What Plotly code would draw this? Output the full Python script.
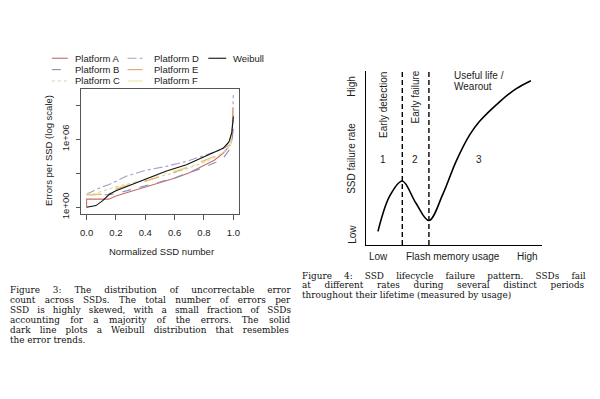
import plotly.graph_objects as go

W, H = 600, 399

# ---------------- Figure 3 data (x = normalized SSD number, y = errors per SSD) -------------
a_x = [0.0, 0.0, 0.15, 0.2, 0.3, 0.4, 0.5, 0.61, 0.7, 0.79, 0.87, 0.93, 0.98, 1.0]
a_y = [1, 5.2, 5.2, 10, 25, 62, 150, 400, 1100, 4000, 14000, 56000, 3.2e5, 8e6]

b_x = [0.0, 0.155, 0.2, 0.3, 0.4, 0.5, 0.61, 0.7, 0.79, 0.87, 0.93, 0.98, 0.995, 1.0]
b_y = [12.6, 12.6, 16, 35, 74, 170, 450, 1100, 2900, 8000, 21000, 1.6e5, 2e6, 3e8]

c_x = [0.0, 0.05, 0.1, 0.2, 0.3, 0.4, 0.5, 0.6, 0.7, 0.8, 0.87, 0.93, 0.98, 1.0]
c_y = [14, 14, 25, 63, 130, 224, 520, 1100, 3000, 9000, 25000, 63000, 3.2e5, 2e8]

d_x = [0.0, 0.05, 0.1, 0.155, 0.27, 0.4, 0.54, 0.68, 0.81, 0.9, 0.95, 0.99, 1.0]
d_y = [14, 30, 60, 100, 550, 1800, 4000, 11000, 40000, 1e5, 2.1e5, 2e6, 8e9]

e_x = [0.0, 0.12, 0.2, 0.3, 0.4, 0.5, 0.6, 0.7, 0.8, 0.87, 0.93, 0.98, 1.0]
e_y = [12.6, 14, 40, 100, 200, 500, 1260, 4000, 12600, 30000, 80000, 4e5, 6e8]

f_x = [0.0, 0.15, 0.2, 0.3, 0.4, 0.5, 0.6, 0.7, 0.8, 0.87, 0.93, 0.98, 1.0]
f_y = [14, 16, 50, 130, 320, 700, 1600, 4000, 10000, 28000, 70000, 3.2e5, 6e7]

w_x = [0.0, 0.03, 0.064, 0.11, 0.155, 0.2, 0.31, 0.4, 0.54, 0.68, 0.81, 0.93, 0.97, 0.99, 1.0]
w_y = [1, 1.1, 1.4, 3.8, 14, 28, 100, 280, 1500, 5600, 30000, 1.6e5, 5.8e5, 4e6, 1e8]

fig3_series = [
    ("Platform A", a_x, a_y, "#c96a6a", "solid"),
    ("Platform B", b_x, b_y, "#8392b5", "dash"),
    ("Platform C", c_x, c_y, "#d6cfa8", "dot"),
    ("Platform D", d_x, d_y, "#ab9cc4", "dashdot"),
    ("Platform E", e_x, e_y, "#e0a862", "longdash"),
    ("Platform F", f_x, f_y, "#ece89c", "longdashdot"),
    ("Weibull", w_x, w_y, "#111111", "solid"),
]
fig3_xticks = [0.0, 0.2, 0.4, 0.6, 0.8, 1.0]
fig3_yticks = [1, 1e3, 1e6, 1e9]
fig3_yticktext = ["1e+00", "", "1e+06", ""]

# ---------------- Figure 4 data (lifecycle failure pattern) ----------------
usage = [0.69, 1.36, 2.07, 2.82, 3.58, 4.37, 5.12, 5.88, 6.44, 7.57, 8.51, 9.36]
failure_rate = [0.78, 2.82, 3.68, 2.44, 1.40, 2.92, 4.81, 6.32, 7.10, 8.22, 8.98, 9.45]
boundaries = [2.07, 3.58]

fig3_legend_cols = [["Platform A", "Platform B", "Platform C"],
                    ["Platform D", "Platform E", "Platform F"],
                    ["Weibull"]]

caption3 = [
    "Figure 3:  The distribution of uncorrectable error",
    "count across SSDs.  The total number of errors per",
    "SSD is highly skewed, with a small fraction of SSDs",
    "accounting for a majority of the errors.  The solid",
    "dark line plots a Weibull distribution that resembles",
    "the error trends.",
]
caption4 = [
    "Figure 4:  SSD lifecycle failure pattern.  SSDs fail",
    "at different rates during several distinct periods",
    "throughout their lifetime (measured by usage)",
]


def px(x):
    return x / W


def py(y):
    return 1 - y / H


SANS = "Liberation Sans, Arial, sans-serif"
SERIF = "DejaVu Serif, serif"
TXT = "#1c1c1c"

# approximate advance widths of DejaVu Serif (units per 2048 em), used only to justify captions
_CW = {' ': 651, ',': 651, '.': 651, ':': 690, '(': 799, ')': 799, '/': 690,
       'a': 1221, 'b': 1311, 'c': 1139, 'd': 1311, 'e': 1208, 'f': 739, 'g': 1311,
       'h': 1327, 'i': 657, 'j': 635, 'k': 1245, 'l': 657, 'm': 1978, 'n': 1327,
       'o': 1233, 'p': 1311, 'q': 1311, 'r': 979, 's': 1051, 't': 820, 'u': 1327,
       'v': 1167, 'w': 1700, 'x': 1167, 'y': 1167, 'z': 1081,
       'F': 1329, 'S': 1370, 'D': 1593, 'T': 1370, 'W': 2120}


def est_width(s, size):
    return sum(_CW.get(ch, 1303) for ch in s) / 2048.0 * size


CAL = 252.0 / est_width(" ".join(caption3[0].split()), 10)


def justified(line, size, target, last=False):
    words = line.split()
    txt = " ".join(words)
    if last or len(words) < 2:
        return txt
    nat = est_width(txt, size) * CAL
    ws = max(0.0, (target - nat) / (len(words) - 1))
    return '<span style="word-spacing:%.2fpx">%s</span>' % (ws, txt)


fig = go.Figure()

for name, xs, ys, col, dash in fig3_series:
    fig.add_trace(go.Scatter(x=xs, y=ys, mode="lines", name=name,
                             line=dict(color=col, dash=dash, width=1.1),
                             xaxis="x", yaxis="y", showlegend=False))

fig.add_trace(go.Scatter(x=usage, y=failure_rate, mode="lines",
                         line=dict(color="black", width=1.6, shape="spline", smoothing=1.0),
                         xaxis="x2", yaxis="y2", showlegend=False))
for b in boundaries:
    fig.add_trace(go.Scatter(x=[b, b], y=[0, 10], mode="lines",
                             line=dict(color="black", width=1.4, dash="5px,3px"),
                             xaxis="x2", yaxis="y2", showlegend=False))

annotations = []
shapes = []


def lab(text, x, y, angle=0, xanchor="center", size=10, family=SANS, color=TXT):
    annotations.append(dict(text=text, x=px(x), y=py(y), xref="paper", yref="paper",
                            textangle=angle, showarrow=False, xanchor=xanchor, yanchor="middle",
                            borderpad=0,
                            font=dict(family=family, size=size, color=color)))


# legend for figure 3 (manual, column-filled like R)
lookup = {s[0]: s for s in fig3_series}
col_line_x = [(51, 67), (127, 145), (208, 226)]
col_text_x = [73, 153, 232]
row_y = [59, 70.5, 82]
for ci, col in enumerate(fig3_legend_cols):
    for ri, name in enumerate(col):
        _, _, _, color, dash = lookup[name]
        x0, x1 = col_line_x[ci]
        shapes.append(dict(type="line", xref="paper", yref="paper",
                           x0=px(x0), x1=px(x1), y0=py(row_y[ri]), y1=py(row_y[ri]),
                           line=dict(color=color, dash=dash, width=1.1)))
        lab(name, col_text_x[ci], row_y[ri], xanchor="left", size=9.5)

# axis titles figure 3
lab("Errors per SSD (log scale)", 47.5, 152.5, -90, size=9.5)
lab("Normalized SSD number", 161, 255, size=9.5)

# figure 4 labels
lab("High", 352, 87, -90)
lab("SSD failure rate", 352, 160, -90)
lab("Low", 352, 237, -90)
lab("Low", 379, 260)
lab("Flash memory usage", 454, 260)
lab("High", 528, 260)
lab("Early detection", 383.5, 106, -90)
lab("Early failure", 416, 98, -90)
lab("Useful life /", 454, 76, 0, "left")
lab("Wearout", 454, 87.5, 0, "left")
lab("1", 383.5, 162)
lab("2", 415, 162)
lab("3", 479.5, 162)

# captions
CAP3 = 8.9
CAP4 = 8.9
for i, line in enumerate(caption3):
    lab(justified(line, CAP3, 285.0, last=(i == len(caption3) - 1)),
        8, 293.5 + i * 10.15, xanchor="left", size=CAP3, family=SERIF, color="#111111")
for i, line in enumerate(caption4):
    lab(justified(line, CAP4, 287.0, last=(i == len(caption4) - 1)),
        301, 279.0 + i * 9.75, xanchor="left", size=CAP4, family=SERIF, color="#111111")

axcol = "#555555"
fig.update_layout(
    width=W, height=H, margin=dict(l=0, r=0, t=0, b=0),
    paper_bgcolor="white", plot_bgcolor="white",
    xaxis=dict(domain=[px(80), px(239)], range=[-0.04, 1.04], tickvals=fig3_xticks,
               tickformat=".1f", ticks="outside", ticklen=5, tickcolor=axcol,
               showline=True, linecolor=axcol, linewidth=1, mirror=True,
               showgrid=False, zeroline=False, ticklabelstandoff=4,
               tickfont=dict(family=SANS, size=9.5, color=TXT)),
    yaxis=dict(domain=[py(217), py(90)], type="log", range=[-0.62, 10.45],
               tickvals=fig3_yticks, ticktext=fig3_yticktext, tickangle=-90,
               ticks="outside", ticklen=4, tickcolor=axcol,
               showline=True, linecolor=axcol, linewidth=1, mirror=True,
               showgrid=False, zeroline=False, ticklabelstandoff=3,
               tickfont=dict(family=SANS, size=9.5, color=TXT)),
    xaxis2=dict(domain=[px(366), px(543)], range=[0, 10], anchor="y2",
                showline=True, linecolor="black", linewidth=1.3, showticklabels=False,
                ticks="", showgrid=False, zeroline=False),
    yaxis2=dict(domain=[py(248), py(72)], range=[0, 10], anchor="x2",
                showline=True, linecolor="black", linewidth=1.3, showticklabels=False,
                ticks="", showgrid=False, zeroline=False),
    annotations=annotations, shapes=shapes,
)

fig.write_html("out.html", config={"displayModeBar": False},
               post_script="document.body.style.margin='0';")
